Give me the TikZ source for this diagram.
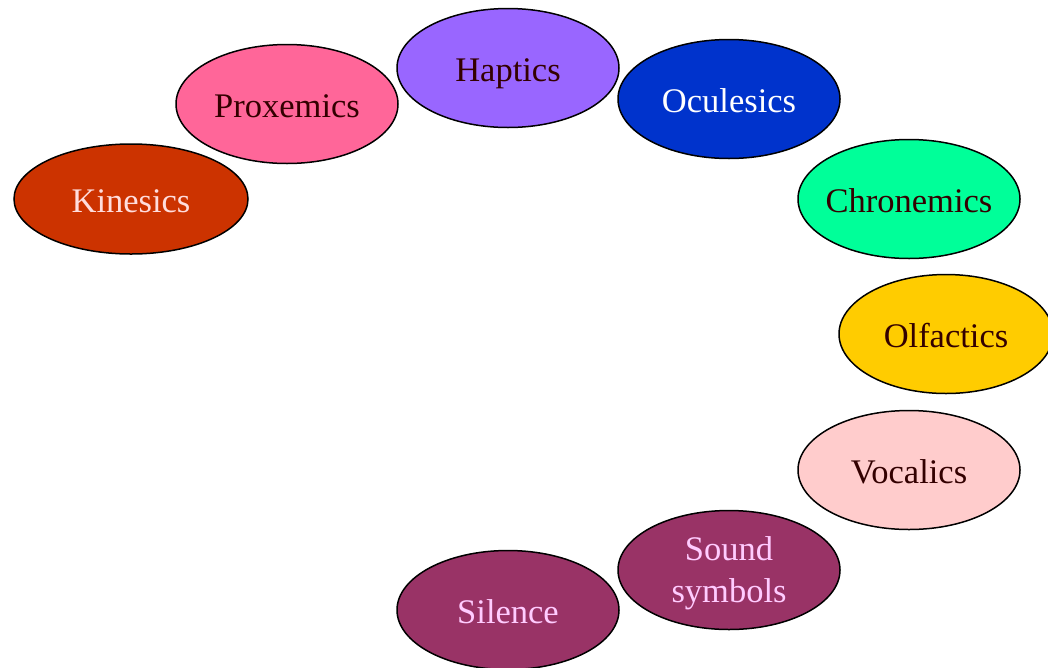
\documentclass[tikz,border=0pt]{standalone}
\usepackage{fontspec}
\setmainfont{Liberation Serif}
\usetikzlibrary{shapes.geometric}
\definecolor{cKin}{HTML}{CC3300}
\definecolor{cProx}{HTML}{FF6699}
\definecolor{cHap}{HTML}{9966FF}
\definecolor{cOcu}{HTML}{0033CC}
\definecolor{cChr}{HTML}{00FF99}
\definecolor{cOlf}{HTML}{FFCC00}
\definecolor{cVoc}{HTML}{FFCCCC}
\definecolor{cSnd}{HTML}{993366}
\definecolor{tDark}{HTML}{330000}
\definecolor{tLight}{HTML}{FFDDDD}
\definecolor{tPink}{HTML}{FFCCFF}
\begin{document}
\begin{tikzpicture}[x=1pt,y=-1pt,
  blob/.style={ellipse, draw=black, line width=1.5pt, inner ysep=0pt, inner xsep=-20pt,
    minimum width=222pt, minimum height=119pt, align=center,
    text height=27pt, text depth=0pt,
    font=\fontsize{34.5}{42}\selectfont}]
\useasboundingbox (0,0) rectangle (1048,667);
\begin{scope}
\clip (0,0) rectangle (1048,667);
\node[blob, fill=cKin, text=tLight, minimum width=234pt, minimum height=110pt] (kin) at (131,199) {Kinesics};
\node[blob, fill=cProx, text=tDark] (prox) at (287,104) {Proxemics};
\node[blob, fill=cHap, text=tDark] (hap) at (508,68) {Haptics};
\node[blob, fill=cOcu, text=white] (ocu) at (729,99) {Oculesics};
\node[blob, fill=cChr, text=tDark] (chr) at (909,199) {Chronemics};
\node[blob, fill=cOlf, text=tDark, minimum width=214pt] (olf) at (946,334) {Olfactics};
\node[blob, fill=cVoc, text=tDark] (voc) at (909,470) {Vocalics};
\node[blob, fill=cSnd, text=tPink, text height=] (snd) at (729,570) {Sound\\symbols};
\node[blob, fill=cSnd, text=tPink] (sil) at (508,610) {Silence};
\end{scope}
\end{tikzpicture}
\end{document}
